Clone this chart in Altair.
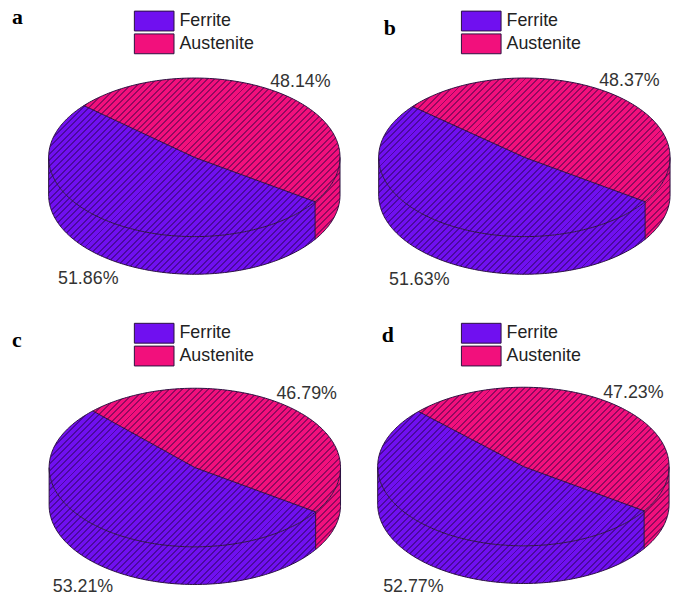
import math
import altair as alt
import pandas as pd

# ---------------- data ----------------
panels = ["a", "b", "c", "d"]
ferrite = [51.86, 51.63, 53.21, 52.77]
austenite = [48.14, 48.37, 46.79, 47.23]
phases = ["Ferrite", "Austenite"]
colors = ["#7010f0", "#f2107c"]

# ---------------- style / geometry constants ----------------
PX = 147.0            # pixels per unit of ellipse x-radius
RY = 80 / 147         # ellipse y-radius (tilt)
DEPTH = 38 / 147      # side-wall height
THETA0 = -34.0        # angle (deg) where Ferrite / Austenite meet at front-right
OUTLINE = "#2a1040"
panel_w = [330, 345, 330, 345]
panel_h = [315, 315, 276, 276]
centre = [(188, 148), (191, 148), (188.5, 146), (190, 145)]   # ellipse centre in panel px
letter_pos = [(4, 13), (49, 25), (4, 24), (47, 19)]            # px inside panel (x, baseline)

# hatch gradient (diagonal stripes) for the silhouette
W = 2 * PX
H = PX * (2 * RY + DEPTH)
ga = (W + H) / (W * W + H * H)
S, LW = 4.6, 1.4
period = S * math.sqrt(2) / (W + H)
frac = LW / S
clear, dark = "rgba(0,0,0,0)", "rgba(30,0,60,0.45)"
stops = []
k = 0
while k * period < 1:
    o0 = k * period
    o1 = min(o0 + period * (1 - frac), 1)
    o2 = min(o0 + period, 1)
    stops += [(o0, clear), (o1, clear), (o1, dark), (o2, dark)]
    k += 1
hatch_fill = alt.LinearGradient(
    gradient="linear",
    stops=[alt.GradientStop(offset=o, color=c) for o, c in stops],
    x1=0, y1=0, x2=ga * W, y2=ga * H,
)


def ell(x):
    return RY * math.sqrt(max(0.0, 1 - x * x))


def build(i):
    A = austenite[i]
    F = ferrite[i]
    pw, ph = panel_w[i], panel_h[i]
    cx, cy = centre[i]
    xdom = [-cx / PX, (pw - cx) / PX]
    ydom = [(cy - ph) / PX, cy / PX]

    t0 = math.radians(THETA0)
    tu = math.radians(THETA0 + 360 * A / 100)
    xl, yl = math.cos(t0), RY * math.sin(t0)
    xu, yu = math.cos(tu), RY * math.sin(tu)

    def split(x):
        return (yu / xu) * x if x <= 0 else (yl / xl) * x

    xs = sorted(set([math.cos(math.radians(d * 0.5)) for d in range(0, 361)] + [xl, xu, 0.0]))
    rows = []
    hatch = []
    for x in xs:
        e = ell(x)
        if x <= xl:
            rows.append(dict(part="side_f", phase="Ferrite", x=x, y=-e, y2=-e - DEPTH))
            rows.append(dict(part="top_f", phase="Ferrite", x=x, y=-e,
                             y2=(e if x <= xu else split(x))))
        if x >= xl:
            rows.append(dict(part="side_a", phase="Austenite", x=x, y=-e, y2=-e - DEPTH))
        if x >= xu:
            rows.append(dict(part="top_a", phase="Austenite", x=x,
                             y=(-e if x >= xl else split(x)), y2=e))
        hatch.append(dict(x=x, y=e, y2=-e - DEPTH))
    df = pd.DataFrame(rows)
    dfh = pd.DataFrame(hatch)

    # outlines
    lines = []
    for j, d in enumerate(range(0, 361)):
        t = math.radians(d)
        lines.append(dict(seg="top", idx=j, x=math.cos(t), y=RY * math.sin(t)))
    for j, d in enumerate(range(180, 361)):
        t = math.radians(d)
        lines.append(dict(seg="bottom", idx=j, x=math.cos(t), y=RY * math.sin(t) - DEPTH))
    for j, (x, y) in enumerate([(xu, yu), (0.0, 0.0), (xl, yl)]):
        lines.append(dict(seg="split", idx=j, x=x, y=y))
    for name, (x, y) in [("left", (-1.0, 0.0)), ("right", (1.0, 0.0)), ("edge", (xl, yl))]:
        lines.append(dict(seg=name, idx=0, x=x, y=y))
        lines.append(dict(seg=name, idx=1, x=x, y=y - DEPTH))
    dfl = pd.DataFrame(lines)

    # percentage labels along slice mid-angles
    labs = []
    mid_a = math.radians(THETA0 + 180 * A / 100)
    mid_f = math.radians(THETA0 + 360 * A / 100 + 180 * F / 100)
    for val, m in [(A, mid_a), (F, mid_f)]:
        s = math.sin(m)
        v = 1.2 * RY * s + (-(DEPTH + 0.06) if s < 0 else 0)
        labs.append(dict(x=1.2 * math.cos(m), y=v, label=f"{val:.2f}%"))
    dft = pd.DataFrame(labs)

    lx, ly = letter_pos[i]
    dflet = pd.DataFrame([dict(x=(lx - cx) / PX, y=(cy - ly) / PX, letter=panels[i])])

    X = alt.X("x:Q", scale=alt.Scale(domain=xdom, nice=False, zero=False), axis=None)
    Y = alt.Y("y:Q", scale=alt.Scale(domain=ydom, nice=False, zero=False), axis=None)

    legend = alt.Legend(
        title=None, orient="none", legendX=137, legendY=0,
        symbolType="M-2,-1H2V1H-2Z", symbolSize=400,
        symbolStrokeColor=OUTLINE, symbolStrokeWidth=1, symbolOpacity=1,
        labelFont="Liberation Sans", labelFontSize=18, labelColor="#222",
        labelOffset=15, rowPadding=-2, padding=0, labelLimit=200,
    )
    areas = alt.Chart(df).mark_area(opacity=1).encode(
        x=X, y=Y, y2="y2:Q",
        color=alt.Color("phase:N", scale=alt.Scale(domain=phases, range=colors), legend=legend),
        detail="part:N",
    )
    hatch_layer = alt.Chart(dfh).mark_area(fill=hatch_fill).encode(x=X, y=Y, y2="y2:Q")
    outline = alt.Chart(dfl).mark_line(color=OUTLINE, strokeWidth=1).encode(
        x=X, y=Y, detail="seg:N", order="idx:Q")
    texts = alt.Chart(dft).mark_text(
        font="Liberation Sans", fontSize=18, color="#333", align="center", baseline="middle"
    ).encode(x=X, y=Y, text="label:N")
    letter = alt.Chart(dflet).mark_text(
        font="Liberation Serif", fontSize=22, fontWeight="bold", color="#000",
        align="left", baseline="alphabetic", clip=True
    ).encode(x=X, y=Y, text="letter:N")
    return alt.layer(areas, hatch_layer, outline, texts, letter).properties(width=pw, height=ph)


chart = (
    alt.concat(build(0), build(1), build(2), build(3), columns=2,
               spacing={"row": 0, "column": 0}, bounds="flush")
    .resolve_scale(color="independent")
    .resolve_legend(color="independent")
    .configure_view(stroke=None)
    .properties(padding=0, background="white")
)
chart.save("out.html", embed_options={"renderer": "svg", "actions": False})
